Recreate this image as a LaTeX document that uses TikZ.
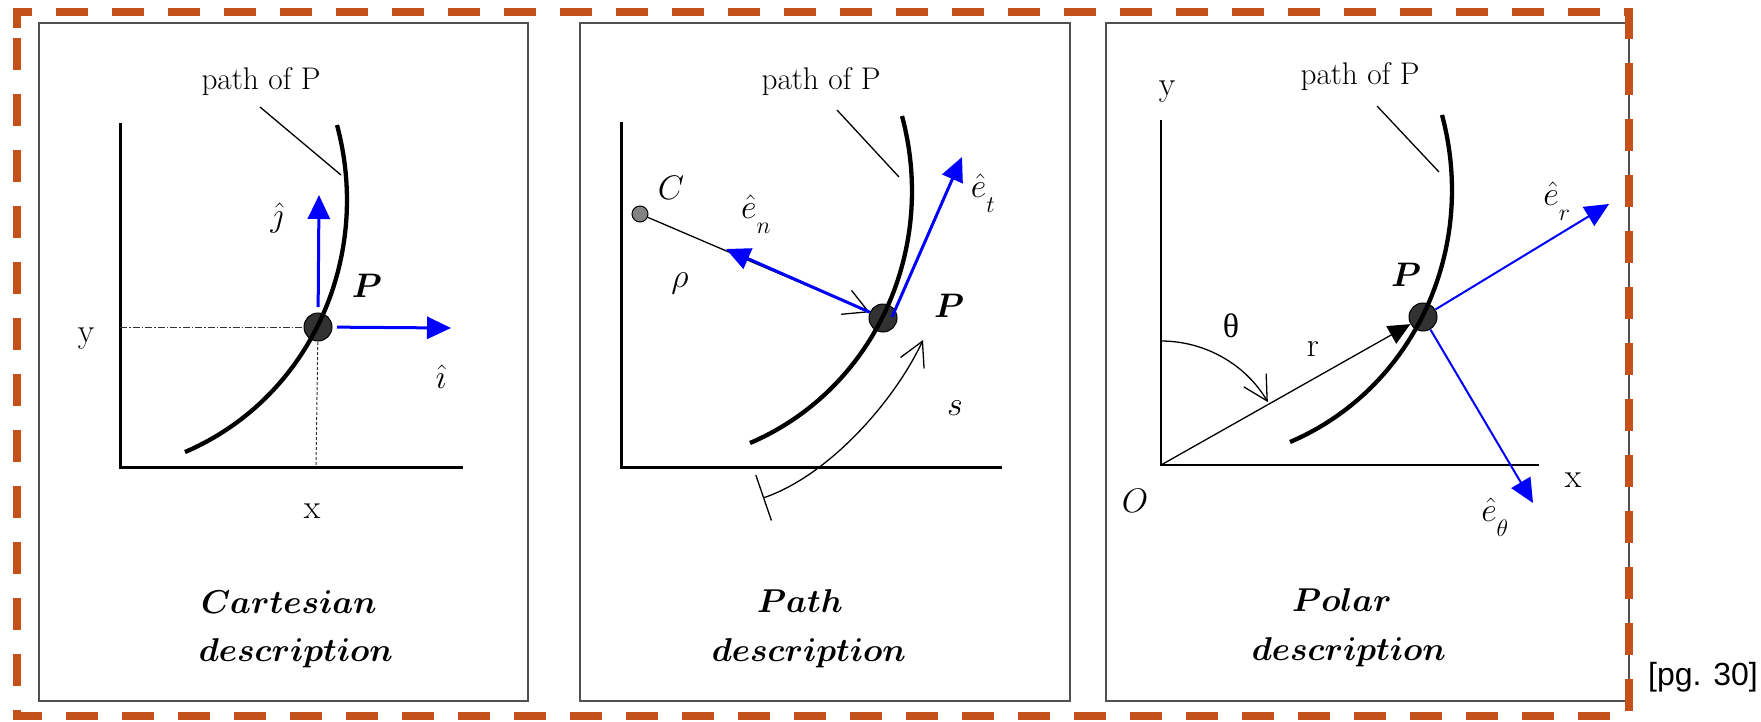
\RequirePackage{fix-cm}
\documentclass[tikz,border=0pt]{standalone}
\usepackage{amsmath}
\usepackage{fontspec}
\newfontfamily\pgfont{Liberation Sans}
\newfontfamily\grkfont{Liberation Serif}
\usetikzlibrary{arrows.meta}
\definecolor{rust}{RGB}{196,80,26}
\definecolor{boxgray}{RGB}{80,80,80}
\definecolor{dotgray}{RGB}{50,50,50}
\definecolor{cgray}{RGB}{130,130,130}
\newcommand{\trajcurve}[1]{%
  \draw[trajline, shift={#1}] (-133,125) .. controls (-9,72) and (55,-68) .. (19,-202);}
\newcommand{\unitvec}[1]{\hat{e}_{\raisebox{-10pt}{$\scriptstyle #1$}}}
\begin{document}
\begin{tikzpicture}[x=1pt, y=-1pt,
  panelbox/.style={draw=boxgray, line width=1.5pt},
  thickaxis/.style={line width=3pt, line join=miter},
  thinaxis/.style={line width=1.5pt, line join=miter},
  trajline/.style={line width=4.3pt},
  pdot/.style={circle, fill=dotgray, draw=black, line width=1pt, minimum size=28pt, inner sep=0pt},
  cdot/.style={circle, fill=cgray, draw=black, line width=1pt, minimum size=16pt, inner sep=0pt},
  bluevec/.style={blue, line width=3pt, -{Triangle[length=24pt,width=22pt]}},
  bluevecthin/.style={blue, line width=2pt, -{Triangle[length=24pt,width=22pt]}},
  thinline/.style={line width=1.3pt},
  barbtip/.style={-{Straight Barb[length=24pt,width=26pt]}},
  lbl/.style={inner sep=0pt, font=\fontsize{34}{40}\selectfont},
  pathlbl/.style={inner sep=0pt, font=\fontsize{31.3}{36}\selectfont},
  titlelbl/.style={inner sep=0pt, font=\fontsize{33}{40}\selectfont},
]
\useasboundingbox (0,0) rectangle (1761,721);

% ---------------- Panel 1: Cartesian ----------------
\draw[panelbox] (39,23) rectangle (528,701);
\draw[thickaxis] (120,123) -- (120,467) -- (463,467);
\coordinate (p1) at (318,327);
\draw[line width=1pt, black!80, dash pattern=on 7pt off 2pt on 1.5pt off 2pt] (120,327) -- (p1);
\draw[line width=1pt, black!80, dash pattern=on 3pt off 2pt] (p1) -- (316,467);
\node[pdot] (P1) at (p1) {};
\trajcurve{(p1)}
\coordinate (j1) at (319,195);
\coordinate (i1) at (451,328);
\draw[bluevec, shorten <=20pt] (P1.center) -- (j1);
\draw[bluevec, shorten <=19pt] (P1.center) -- (i1);
\coordinate (lead1a) at (260,107);
\coordinate (lead1b) at (341,175);
\draw[thinline] (lead1a) -- (lead1b);
\node[pathlbl] (path1) at (261,82) {path of P};
\node[lbl] (jl) at (277,218) {$\hat{\jmath}$};
\node[lbl] (il) at (441,377) {$\hat{\imath}$};
\node[lbl] (Pl1) at (367,286) {$\boldsymbol{P}$};
\node[lbl] (yl1) at (86,339) {y};
\node[lbl] (xl1) at (312,511) {x};
\node[titlelbl] (t1a) at (289,602) {$\boldsymbol{Cartesian}$};
\node[titlelbl] (t1b) at (296,653) {$\boldsymbol{description}$};

% ---------------- Panel 2: Path ----------------
\draw[panelbox] (580,23) rectangle (1070,701);
\draw[thickaxis] (621,122) -- (621,467) -- (1002,467);
\coordinate (p2) at (883,318);
\node[pdot] (P2) at (p2) {};
\trajcurve{(p2)}
\node[cdot] (C) at (640,214) {};
\draw[thinline, barbtip] (C) -- (P2);
\coordinate (en) at (726,249);
\coordinate (et0) at (892,317);
\coordinate (et) at (962,157);
\draw[bluevec] (P2) -- (en);
\draw[bluevec] (et0) -- (et);
\coordinate (s0) at (763,498);
\coordinate (s1) at (923,340);
\draw[thinline, {Bar[width=48pt]}-{Straight Barb[length=24pt,width=26pt]}] (s0) .. controls (830,475) and (895,400) .. (s1);
\coordinate (lead2a) at (837,110);
\coordinate (lead2b) at (899,177);
\draw[thinline] (lead2a) -- (lead2b);
\node[pathlbl] (path2) at (821,82) {path of P};
\node[lbl] (Cl) at (671,188) {$C$};
\node[lbl] (enl) at (756,214) {$\unitvec{n}$};
\node[lbl] (rhol) at (680,283) {$\rho$};
\node[lbl] (etl) at (983,193) {$\unitvec{t}$};
\node[lbl] (Pl2) at (949,306) {$\boldsymbol{P}$};
\node[lbl] (sl) at (955,408) {$s$};
\node[titlelbl] (t2a) at (800,601) {$\boldsymbol{Path}$};
\node[titlelbl] (t2b) at (809,653) {$\boldsymbol{description}$};

% ---------------- Panel 3: Polar ----------------
\draw[panelbox] (1106,23) rectangle (1629,701);
\coordinate (O) at (1161,465);
\draw[thinaxis] (1161,120) -- (O) -- (1539,465);
\coordinate (p3) at (1423,317);
\node[pdot] (P3) at (p3) {};
\trajcurve{(p3)}
\draw[thinline, -{Triangle[length=22pt,width=20pt]}] (O) -- (P3);
\draw[thinline, barbtip] (O) ++(0,-124) arc[start angle=-90, end angle=-30.5, radius=124];
\coordinate (er) at (1609,204);
\coordinate (eth) at (1533,503);
\draw[bluevecthin] (P3) -- (er);
\draw[bluevecthin] (P3) -- (eth);
\coordinate (lead3a) at (1377,106);
\coordinate (lead3b) at (1439,172);
\draw[thinline] (lead3a) -- (lead3b);
\node[pathlbl] (path3) at (1360,77) {path of P};
\node[lbl] (yl3) at (1167,92) {y};
\node[lbl] (xl3) at (1573,480) {x};
\node[lbl] (Ol) at (1135,501) {$O$};
\node[lbl] (Pl3) at (1406,275) {$\boldsymbol{P}$};
\node[lbl] (thl) at (1231,326) {\grkfont θ};
\node[lbl] (rl) at (1313,349) {r};
\node[lbl] (erl) at (1557,201) {$\unitvec{r}$};
\node[lbl] (ethl) at (1495,517) {$\unitvec{\theta}$};
\node[titlelbl] (t3a) at (1342,600) {$\boldsymbol{Polar}$};
\node[titlelbl] (t3b) at (1349,652) {$\boldsymbol{description}$};

% ---------------- outer dashed frame ----------------
\draw[rust, line width=8pt, dash pattern=on 32pt off 24pt] (16.6,28) -- (16.6,11.5) -- (1629,11.5) -- (1629,716) -- (16.6,716) -- cycle;
\node[inner sep=0pt, font=\pgfont\fontsize{32}{36}\selectfont] (pg) at (1703,677) {[pg. 30]};
\end{tikzpicture}
\end{document}
